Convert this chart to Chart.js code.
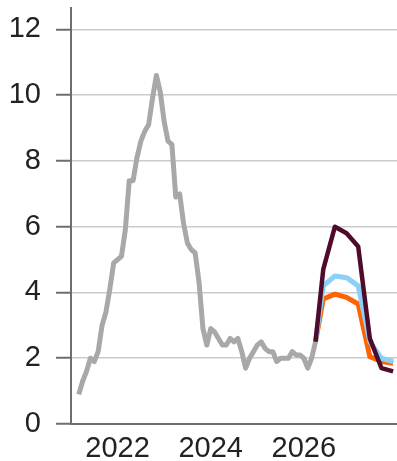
<!DOCTYPE html>
<html>
<head>
<meta charset="utf-8">
<script src="https://cdn.jsdelivr.net/npm/chart.js@4.4.1/dist/chart.umd.min.js"></script>
<style>
  html, body { margin: 0; padding: 0; background: #fff; }
  #wrap { width: 397px; height: 461px; }
</style>
</head>
<body>
<div id="wrap"><canvas id="inflation-canvas"></canvas></div>
<script>
// monthly outturns, Feb 2021 - Mar 2026
var months = [
  '2021-02','2021-03','2021-04','2021-05','2021-06','2021-07','2021-08','2021-09','2021-10','2021-11','2021-12',
  '2022-01','2022-02','2022-03','2022-04','2022-05','2022-06','2022-07','2022-08','2022-09','2022-10','2022-11','2022-12',
  '2023-01','2023-02','2023-03','2023-04','2023-05','2023-06','2023-07','2023-08','2023-09','2023-10','2023-11','2023-12',
  '2024-01','2024-02','2024-03','2024-04','2024-05','2024-06','2024-07','2024-08','2024-09','2024-10','2024-11','2024-12',
  '2025-01','2025-02','2025-03','2025-04','2025-05','2025-06','2025-07','2025-08','2025-09','2025-10','2025-11','2025-12',
  '2026-01','2026-02','2026-03'
];
var actual = [
  0.9, 1.3, 1.6, 2.0, 1.9, 2.2, 3.0, 3.4, 4.1, 4.9, 5.0,
  5.1, 5.9, 7.4, 7.4, 8.1, 8.6, 8.9, 9.1, 9.9, 10.6, 10.1, 9.2,
  8.6, 8.5, 6.9, 7.0, 6.1, 5.5, 5.3, 5.2, 4.3, 2.9, 2.4, 2.9,
  2.8, 2.6, 2.4, 2.4, 2.6, 2.5, 2.6, 2.2, 1.7, 2.0, 2.2, 2.4,
  2.5, 2.3, 2.2, 2.2, 1.9, 2.0, 2.0, 2.0, 2.2, 2.1, 2.1, 2.0,
  1.7, 2.0, 2.5
];

// scenario paths, quarterly from the last outturn
var scenarioMonths = ['2026-03','2026-05','2026-08','2026-11','2027-02','2027-05','2027-08','2027-11'];
var scenarioHigh = [2.5, 4.7, 6.0, 5.8, 5.4, 2.6, 1.7, 1.6];
var scenarioMid  = [2.5, 4.2, 4.5, 4.45, 4.2, 2.5, 2.0, 1.9];
var scenarioLow  = [2.5, 3.8, 3.95, 3.85, 3.65, 2.05, 1.9, 1.85];

var yearTicks = [2022, 2024, 2026];
var rateTicks = [0, 2, 4, 6, 8, 10, 12];

function toYear(m) {
  var p = m.split('-');
  return Number(p[0]) + Number(p[1]) / 12;
}
function points(dates, values) {
  return dates.map(function (d, i) { return {x: toYear(d), y: values[i]}; });
}
function line(data, color, width) {
  return {
    data: data,
    borderColor: color,
    backgroundColor: color,
    borderWidth: width,
    pointRadius: 0,
    tension: 0,
    borderJoinStyle: 'round',
    borderCapStyle: 'butt'
  };
}

var axisColor = '#6e6e6e';
var tickFont = {family: "'Liberation Sans', Arial, sans-serif", size: 29};

var ctx = document.getElementById('inflation-canvas').getContext('2d');
var chart = new Chart(ctx, {
  type: 'line',
  data: {
    datasets: [
      line(points(scenarioMonths, scenarioHigh), '#4e0b2c', 4.5),
      line(points(scenarioMonths, scenarioMid), '#8bd0f6', 5),
      line(points(scenarioMonths, scenarioLow), '#ff6200', 5),
      line(points(months, actual), '#a8a8a8', 5)
    ]
  },
  options: {
    responsive: true,
    maintainAspectRatio: false,
    animation: false,
    layout: {padding: {top: 8, right: 0, bottom: 0, left: 0}},
    plugins: {legend: {display: false}, tooltip: {enabled: false}},
    scales: {
      x: {
        type: 'linear',
        min: 2021,
        max: 2028,
        afterBuildTicks: function (scale) {
          scale.ticks = yearTicks.map(function (v) { return {value: v}; });
        },
        afterFit: function (scale) {
          scale.height = 37;
          scale.paddingLeft = 0;
          scale.paddingRight = 0;
        },
        grid: {display: false, drawTicks: false},
        border: {display: true, color: axisColor, width: 2},
        ticks: {
          color: '#222',
          font: tickFont,
          padding: 8,
          maxRotation: 0,
          callback: function (v) { return String(v); }
        }
      },
      y: {
        min: 0,
        max: 12.65,
        afterBuildTicks: function (scale) {
          scale.ticks = rateTicks.map(function (v) { return {value: v}; });
        },
        afterFit: function (scale) {
          scale.width = 71;
          // top label sits well inside the axis, no extra room needed
          scale.paddingTop = 0;
          scale.paddingBottom = 0;
        },
        grid: {
          color: '#cbcbcb',
          lineWidth: 1.5,
          tickLength: 15,
          tickColor: axisColor,
          tickWidth: 2
        },
        border: {display: true, color: axisColor, width: 2},
        ticks: {color: '#222', font: tickFont, padding: 15}
      }
    }
  }
});
</script>
</body>
</html>
